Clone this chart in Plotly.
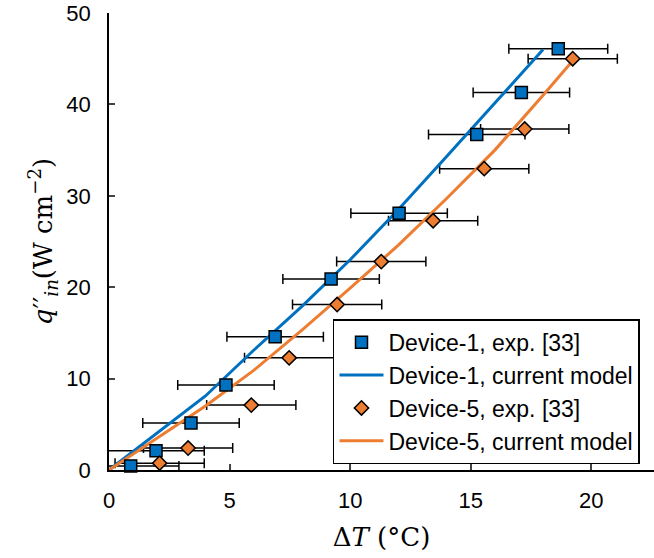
import plotly.graph_objects as go

# Measured heat flux vs. temperature rise, with horizontal uncertainty
dev1_dt = [0.9, 1.95, 3.4, 4.85, 6.89, 9.21, 12.03, 15.25, 17.1, 18.63]
dev1_q = [0.45, 2.1, 5.15, 9.3, 14.57, 20.9, 28.1, 36.7, 41.3, 46.1]
dev1_err = [2.0, 2.0, 2.0, 2.0, 2.0, 2.0, 2.0, 2.0, 2.0, 2.05]

dev5_dt = [2.1, 3.28, 5.9, 7.47, 9.46, 11.29, 13.44, 15.56, 17.24, 19.23]
dev5_q = [0.75, 2.4, 7.1, 12.27, 18.1, 22.8, 27.27, 32.97, 37.3, 45.0]
dev5_err = [1.85, 1.85, 1.85, 1.85, 1.85, 1.85, 1.85, 1.85, 1.83, 1.85]

# Model predictions
model1_dt = [0, 2, 4, 6, 8, 10, 12, 14, 16, 18]
model1_q = [0, 4.0, 8.1, 13.1, 17.9, 23.0, 28.5, 34.3, 40.1, 46.0]
model5_dt = [0, 2, 4, 6, 8, 10, 12, 14, 16, 18, 19.3]
model5_q = [0, 3.5, 7.0, 10.9, 15.3, 19.9, 24.6, 29.7, 35.0, 41.0, 45.0]

x_ticks = [0, 5, 10, 15, 20]
y_ticks = [0, 10, 20, 30, 40, 50]

BLUE = "#0070C0"
ORANGE = "#ED7D31"
SANS = "Liberation Sans, Arial, sans-serif"
SERIF = "DejaVu Serif, Liberation Serif, serif"

fig = go.Figure()

# Error bars (clipped to the plotting area)
for xs, ys, es in [(dev1_dt, dev1_q, dev1_err), (dev5_dt, dev5_q, dev5_err)]:
    fig.add_trace(go.Scatter(
        x=xs, y=ys, mode="markers",
        marker=dict(size=1, color="rgba(0,0,0,0)"),
        error_x=dict(type="data", array=es, color="black", thickness=1.5, width=5),
        showlegend=False, hoverinfo="skip", cliponaxis=True,
    ))

fig.add_trace(go.Scatter(
    x=model1_dt, y=model1_q, mode="lines", name="Device-1, current model",
    line=dict(color=BLUE, width=3), legendrank=2,
))
fig.add_trace(go.Scatter(
    x=model5_dt, y=model5_q, mode="lines", name="Device-5, current model",
    line=dict(color=ORANGE, width=3), legendrank=4,
))
fig.add_trace(go.Scatter(
    x=dev1_dt, y=dev1_q, mode="markers", name="Device-1, exp. [33]",
    marker=dict(symbol="square", size=12, color=BLUE, line=dict(color="black", width=1.5)),
    legendrank=1, cliponaxis=False,
))
fig.add_trace(go.Scatter(
    x=dev5_dt, y=dev5_q, mode="markers", name="Device-5, exp. [33]",
    marker=dict(symbol="diamond", size=11, color=ORANGE, line=dict(color="black", width=1.5)),
    legendrank=3, cliponaxis=False,
))

fig.update_layout(
    width=654, height=558,
    margin=dict(l=109, r=0, t=13, b=88),
    paper_bgcolor="white", plot_bgcolor="white",
    font=dict(family=SANS, size=22, color="black"),
    legend=dict(
        x=0.411, y=0.33, xanchor="left", yanchor="top",
        bordercolor="black", borderwidth=1.5, bgcolor="white",
        font=dict(family=SANS, size=23), traceorder="normal",
        itemwidth=44,
    ),
)

fig.update_xaxes(
    range=[0, 22.6], tickvals=x_ticks, ticks="inside", ticklen=6, tickwidth=1.5,
    showline=True, linecolor="black", linewidth=1.5, showgrid=False, zeroline=False,
    tickfont=dict(family=SANS, size=22), ticklabelstandoff=10,
    title=dict(text="Δ<i>T</i> (°C)", font=dict(family=SERIF, size=26), standoff=16),
)
fig.update_yaxes(
    range=[0, 50], tickvals=y_ticks, ticks="inside", ticklen=6, tickwidth=1.5,
    showline=True, linecolor="black", linewidth=1.5, showgrid=False, zeroline=False,
    tickfont=dict(family=SANS, size=22), ticklabelstandoff=12,
    title=dict(text="<i>q</i>′′<sub><i>in</i></sub>(W cm<sup>−2</sup>)",
               font=dict(family=SERIF, size=26), standoff=6),
)

fig.write_html("out.html")
